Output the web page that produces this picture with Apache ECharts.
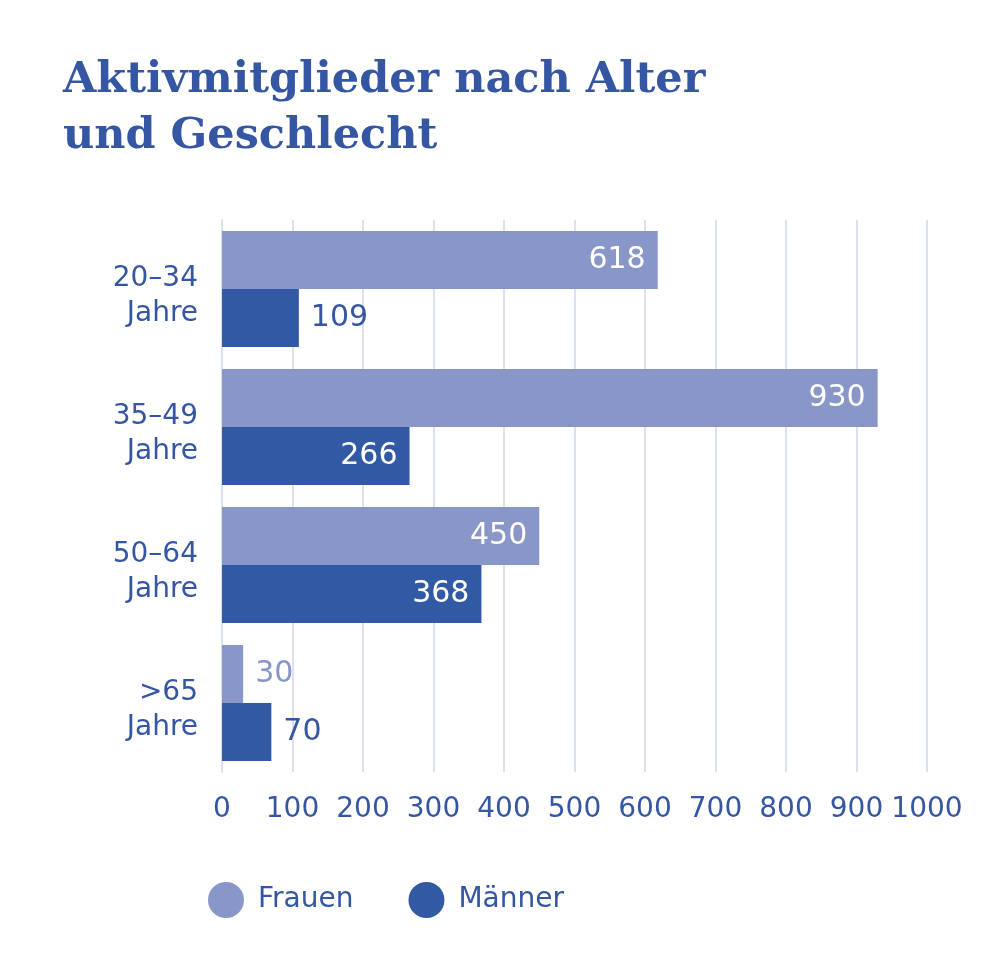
<!DOCTYPE html>
<html>
<head>
    <meta charset="utf-8">
    <script src="https://cdn.jsdelivr.net/npm/echarts@6/dist/echarts.min.js"></script>
    <style>
        html, body { margin: 0; padding: 0; background: #fff; }
    </style>
</head>
<body>
    <div id="main" style="width: 1008px;height:975px;"></div>
	<script type="text/javascript">
        // Daten
        var categories = ['20–34\nJahre', '35–49\nJahre', '50–64\nJahre', '>65\nJahre'];
        var frauen = [618, 930, 450, 30];
        var maenner = [109, 266, 368, 70];
        var xTicks = [0, 100, 200, 300, 400, 500, 600, 700, 800, 900, 1000];

        var cFrauen = '#8996c8';
        var cMaenner = '#3259a3';
        var cText = '#3556a3';
        var cGrid = '#dde1ef';
        var sans = '"DejaVu Sans", sans-serif';

        // kleine Balken bekommen das Label rechts daneben
        function withLabels(values, color) {
            return values.map(function (v) {
                if (v < 200) {
                    return { value: v, label: { position: 'right', distance: 12, color: color } };
                }
                return { value: v, label: { position: 'insideRight', distance: 12, color: '#fff' } };
            });
        }

        var myChart = echarts.init(document.getElementById('main'));
		myChart.setOption({
            animation: false,
			title: {
				text: 'Aktivmitglieder nach Alter\nund Geschlecht',
                left: 58,
                top: 48,
                textStyle: {
                    fontFamily: '"DejaVu Serif", serif',
                    fontWeight: 'bold',
                    fontSize: 43,
                    lineHeight: 56,
                    color: cText
                }
			},
			legend: {
				data: ['Frauen', 'Männer'],
                left: 203,
                top: 877,
                icon: 'circle',
                itemWidth: 36,
                itemHeight: 36,
                itemGap: 55,
                textStyle: { fontFamily: sans, fontSize: 28, color: cText, padding: [0, 0, 0, 9] }
			},
            grid: { left: 222, right: 81, top: 220, bottom: 203 },
			xAxis: {
                type: 'value',
                min: 0,
                max: 1000,
                interval: 100,
                axisLine: { show: false },
                axisTick: { show: false },
                splitLine: { lineStyle: { color: cGrid, width: 2 } },
                axisLabel: {
                    margin: 24,
                    fontFamily: sans,
                    fontSize: 28,
                    color: cText,
                    formatter: function (v) { return xTicks.indexOf(v) >= 0 ? String(v) : ''; }
                }
			},
			yAxis: {
                type: 'category',
                inverse: true,
				data: categories,
                axisLine: { show: true, lineStyle: { color: cGrid, width: 2 } },
                axisTick: { show: false },
                axisLabel: {
                    margin: 24,
                    fontFamily: sans,
                    fontSize: 28,
                    lineHeight: 35,
                    color: cText,
                    align: 'right',
                    // leere Zeile oben schiebt den Block etwas nach unten
                    formatter: function (v) {
                        return '{s| }\n' + v.split('\n').map(function (t) { return '{l|' + t + '}'; }).join('\n');
                    },
                    rich: {
                        s: { fontSize: 1, lineHeight: 14 },
                        l: { fontFamily: sans, fontSize: 28, lineHeight: 35, color: cText }
                    }
                }
            },
			series: [{
				name: 'Frauen',
				type: 'bar',
                barGap: '0%',
                barCategoryGap: '16%',
                itemStyle: { color: cFrauen },
                label: { show: true, fontFamily: sans, fontSize: 30 },
				data: withLabels(frauen, cFrauen)
			}, {
				name: 'Männer',
				type: 'bar',
                barGap: '0%',
                barCategoryGap: '16%',
                itemStyle: { color: cMaenner },
                label: { show: true, fontFamily: sans, fontSize: 30 },
				data: withLabels(maenner, cText)
			}]
		});
    </script>
</body>
</html>
